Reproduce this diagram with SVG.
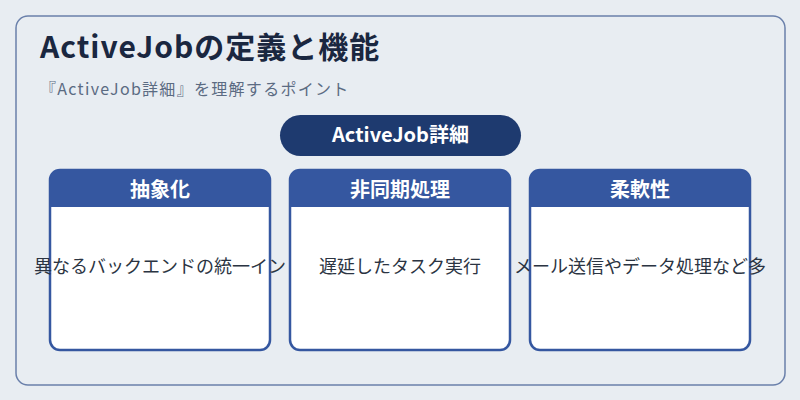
<svg xmlns="http://www.w3.org/2000/svg" width="800" height="400" viewBox="0 0 800 400">
<style>
text{font-family:"Noto Sans CJK JP","Noto Sans",sans-serif}
.card{fill:#ffffff;stroke:#3557a0;stroke-width:2.5}
.head{fill:#3557a0}
.ht{fill:#ffffff;font-size:20px;font-weight:bold;text-anchor:middle}
.bt{fill:#2b3442;font-size:18px;text-anchor:middle}
</style>
<defs>
<clipPath id="c1"><rect x="50" y="170" width="220" height="180" rx="10"/></clipPath>
<clipPath id="c2"><rect x="290" y="170" width="220" height="180" rx="10"/></clipPath>
<clipPath id="c3"><rect x="530" y="170" width="220" height="180" rx="10"/></clipPath>
</defs>
<rect width="800" height="400" fill="#e8edf2"/>
<rect x="16" y="16" width="769" height="369" rx="12" fill="none" stroke="#6a80ab" stroke-width="1.5"/>
<text x="40" y="58" font-size="30" font-weight="bold" fill="#1a2740" letter-spacing="1">ActiveJobの定義と機能</text>
<text x="40" y="95" font-size="16" fill="#5b6b82" letter-spacing="1.3">『ActiveJob詳細』を理解するポイント</text>
<g id="main">
<rect x="280" y="115" width="241" height="41" rx="20.5" fill="#1e3a6f"/>
<text x="400.5" y="142" fill="#ffffff" font-size="20" font-weight="bold" text-anchor="middle">ActiveJob詳細</text>
</g>
<g id="connectors"></g>
<g id="n1">
<rect class="card" x="50" y="170" width="220" height="180" rx="10"/>
<rect class="head" x="50" y="170" width="220" height="37" clip-path="url(#c1)"/>
<text class="ht" x="160" y="197">抽象化</text>
<text class="bt" x="160" y="273">異なるバックエンドの統一イン</text>
</g>
<g id="n2">
<rect class="card" x="290" y="170" width="220" height="180" rx="10"/>
<rect class="head" x="290" y="170" width="220" height="37" clip-path="url(#c2)"/>
<text class="ht" x="400" y="197">非同期処理</text>
<text class="bt" x="400" y="273">遅延したタスク実行</text>
</g>
<g id="n3">
<rect class="card" x="530" y="170" width="220" height="180" rx="10"/>
<rect class="head" x="530" y="170" width="220" height="37" clip-path="url(#c3)"/>
<text class="ht" x="640" y="197">柔軟性</text>
<text class="bt" x="640" y="273">メール送信やデータ処理など多</text>
</g>
</svg>
